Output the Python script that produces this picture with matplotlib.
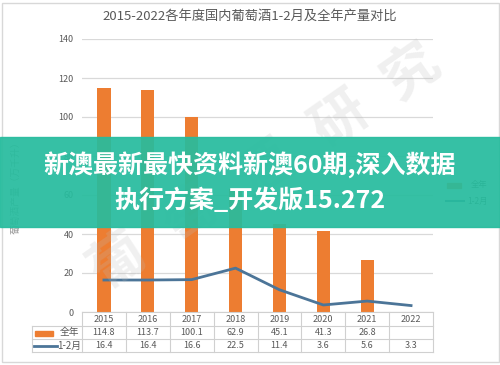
import matplotlib
matplotlib.use("Agg")
import matplotlib.pyplot as plt
from matplotlib.patches import Rectangle
from matplotlib.lines import Line2D
import matplotlib.transforms as mtransforms

plt.rcParams['font.family'] = ['Noto Sans CJK SC', 'DejaVu Sans']

years = ['2015', '2016', '2017', '2018', '2019', '2020', '2021', '2022']
full_year = [114.8, 113.7, 100.1, 62.9, 45.1, 41.3, 26.8, None]
jan_feb = [16.4, 16.4, 16.6, 22.5, 11.4, 3.6, 5.6, 3.3]
yticks = [0, 20, 40, 60, 80, 100, 120, 140]

title = '2015-2022各年度国内葡萄酒1-2月及全年产量对比'
ylabel = '葡萄酒产量（万千升）'
banner1 = '新澳最新最快资料新澳60期,深入数据'
banner2 = '执行方案_开发版15.272'

W, H = 500, 365
fig = plt.figure(figsize=(W / 100, H / 100), dpi=100)
fig.patch.set_facecolor('white')

def fx(px):
    return px / W

def fy(py):
    return 1 - py / H

orange = '#ED7D31'
blue = '#4C7598'
grid = '#D9D9D9'
tcol = '#595959'

# main axes
L, R, T, B = 82, 433, 39, 312
ax = fig.add_axes([fx(L), fy(B), fx(R - L), (B - T) / H])
ax.set_xlim(-0.5, len(years) - 0.5)
ax.set_ylim(0, 140)
ax.set_yticks(yticks)
ax.set_yticklabels([str(v) for v in yticks], fontsize=6.5, color=tcol)
ax.tick_params(axis='y', length=0, pad=6)
ax.tick_params(axis='x', length=0, labelbottom=False)
ax.grid(axis='y', color=grid, linewidth=0.9)
ax.set_axisbelow(True)
for s in ax.spines.values():
    s.set_visible(False)

xs = list(range(len(years)))
bx = [x for x, v in zip(xs, full_year) if v is not None]
bv = [v for v in full_year if v is not None]
ax.bar(bx, bv, width=0.3, color=orange, zorder=2)
ax.plot(xs, jan_feb, color=blue, linewidth=2, zorder=3)

# table below axes
trans = mtransforms.blended_transform_factory(ax.transData, fig.transFigure)
line_kw = dict(color='#D0D0D0', linewidth=0.8)
fig.add_artist(Line2D([fx(L), fx(R)], [fy(312), fy(312)], **line_kw))
for yy in [325.5, 339, 352]:
    fig.add_artist(Line2D([fx(32), fx(R)], [fy(yy), fy(yy)], **line_kw))
fig.add_artist(Line2D([fx(32), fx(32)], [fy(325.5), fy(352)], **line_kw))
for i in range(len(years) + 1):
    xv = -0.5 + i
    ax.add_artist(Line2D([xv, xv], [fy(312), fy(352)], transform=trans, clip_on=False, **line_kw))

for i, yr in enumerate(years):
    fig.text(0, fy(319), yr, transform=trans, fontsize=6.5, color=tcol,
             ha='center', va='center').set_x(i)
    v = full_year[i]
    if v is not None:
        fig.text(0, fy(332.5), f'{v:.1f}', transform=trans, fontsize=6.5, color=tcol,
                 ha='center', va='center').set_x(i)
    fig.text(0, fy(346), f'{jan_feb[i]:.1f}', transform=trans, fontsize=6.5, color=tcol,
             ha='center', va='center').set_x(i)

# table legend keys
fig.add_artist(Rectangle((fx(35), fy(335.5)), fx(18), 5 / H, color=orange, transform=fig.transFigure))
fig.text(fx(60), fy(332.5), '全年', fontsize=7, color=tcol, va='center')
fig.add_artist(Line2D([fx(34), fx(57)], [fy(346), fy(346)], color=blue, linewidth=2))
fig.text(fx(57), fy(346), '1-2月', fontsize=7, color=tcol, va='center')

# right legend
fig.add_artist(Rectangle((fx(447), fy(187.5)), fx(14), 5 / H, color=orange, transform=fig.transFigure))
fig.text(fx(471), fy(185), '全年', fontsize=6, color=tcol, va='center')
fig.add_artist(Line2D([fx(446), fx(464)], [fy(201), fy(201)], color=blue, linewidth=1.5))
fig.text(fx(467), fy(201), '1-2月', fontsize=6, color=tcol, va='center')

# y label
fig.text(fx(16), fy(185), ylabel, fontsize=7, color='#9A9A9A', rotation=90,
         ha='center', va='center')

# title
fig.text(0.5, fy(16), title, fontsize=9.5, color='#595959', ha='center', va='center')

# watermark
wm = '葡萄酒研究'
for k, (cx, cy) in enumerate([(118, 262), (190, 215), (265, 170), (340, 120), (412, 72)]):
    fig.text(fx(cx), fy(cy), wm[k], fontsize=40, color='#BBBBBB', alpha=0.22,
             rotation=35, ha='center', va='center', fontweight='bold')

# banner
fig.add_artist(Rectangle((0, fy(227)), 1, (227 - 137) / H, color='#27BC9E', alpha=0.93,
                         transform=fig.transFigure, zorder=10))
fig.text(0.5, fy(165), banner1, fontsize=18, color='white', fontweight='bold',
         ha='center', va='center', zorder=11)
fig.text(0.5, fy(200), banner2, fontsize=18, color='white', fontweight='bold',
         ha='center', va='center', zorder=11)

# frame
fig.add_artist(Rectangle((fx(1.5), fy(362)), fx(497), 359 / H, fill=False,
                         edgecolor='#D8D8D8', linewidth=1, transform=fig.transFigure))

fig.savefig('out.png', dpi=100, facecolor='white')
